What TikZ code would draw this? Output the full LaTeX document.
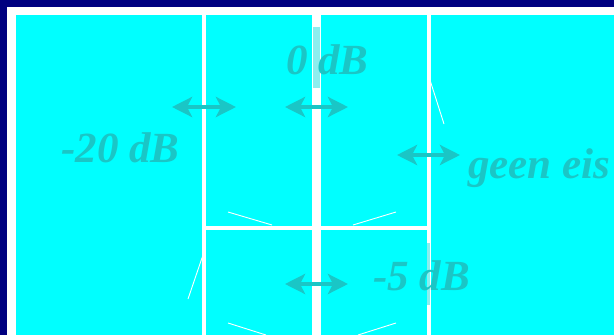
\documentclass[tikz,border=0pt]{standalone}
\usepackage{fontspec}
\setmainfont{Liberation Serif}
\usetikzlibrary{arrows.meta}
\definecolor{navybg}{RGB}{0,0,128}
\definecolor{roomcyan}{RGB}{0,255,255}
\definecolor{labelcyan}{RGB}{26,198,198}
\definecolor{hatchcyan}{RGB}{140,238,238}
\tikzset{
  wall/.style={fill=white, draw=none},
  hatch/.style={fill=hatchcyan, draw=none},
  doorline/.style={draw=white, line width=0.9pt},
  dbarrow/.style={draw=labelcyan, line width=4.4pt,
    {Stealth[length=20pt,width=20pt,inset=5pt]}-{Stealth[length=20pt,width=20pt,inset=5pt]}},
  lbl/.style={text=labelcyan, inner sep=0pt, anchor=base west,
    font=\fontsize{43}{47}\selectfont\bfseries\itshape}
}
\begin{document}
\begin{tikzpicture}[x=1pt,y=-1pt]
\useasboundingbox (0,0) rectangle (614,335);
\fill[navybg] (0,0) rectangle (614,335);
\fill[white] (7,7) rectangle (614,335);
\fill[roomcyan] (16,15) rectangle (614,335);
% walls
\path[wall] (202,15) rectangle (206,335);
\path[wall] (312,15) rectangle (321,335);
\path[wall] (426.5,15) rectangle (430.5,335);
\path[wall] (202,226) rectangle (430.5,229.5);
% highlighted wall parts behind labels
\path[hatch] (313,27) rectangle (320,88);
\path[hatch] (427,243) rectangle (430,305);
% door swings
\draw[doorline] (430,80) -- (444,124);
\draw[doorline] (228,212) -- (272,225);
\draw[doorline] (396,212) -- (353,225);
\draw[doorline] (228,323) -- (266,335);
\draw[doorline] (396,323) -- (358,335);
\draw[doorline] (203,255) -- (188,299);
% arrows
\coordinate (a1l) at (172,107); \coordinate (a1r) at (236,107);
\coordinate (a2l) at (285,107); \coordinate (a2r) at (348,107);
\coordinate (a3l) at (285,284); \coordinate (a3r) at (348,284);
\coordinate (a4l) at (397,155); \coordinate (a4r) at (460,155);
\draw[dbarrow] (a1l) -- (a1r);
\draw[dbarrow] (a2l) -- (a2r);
\draw[dbarrow] (a3l) -- (a3r);
\draw[dbarrow] (a4l) -- (a4r);
% labels
\node[lbl] (l0) at (286,74) {0 dB};
\node[lbl] (l20) at (61,162) {-20 dB};
\node[lbl] (lgeen) at (468,178) {geen eis};
\node[lbl] (l5) at (373,290) {-5 dB};
\end{tikzpicture}
\end{document}
